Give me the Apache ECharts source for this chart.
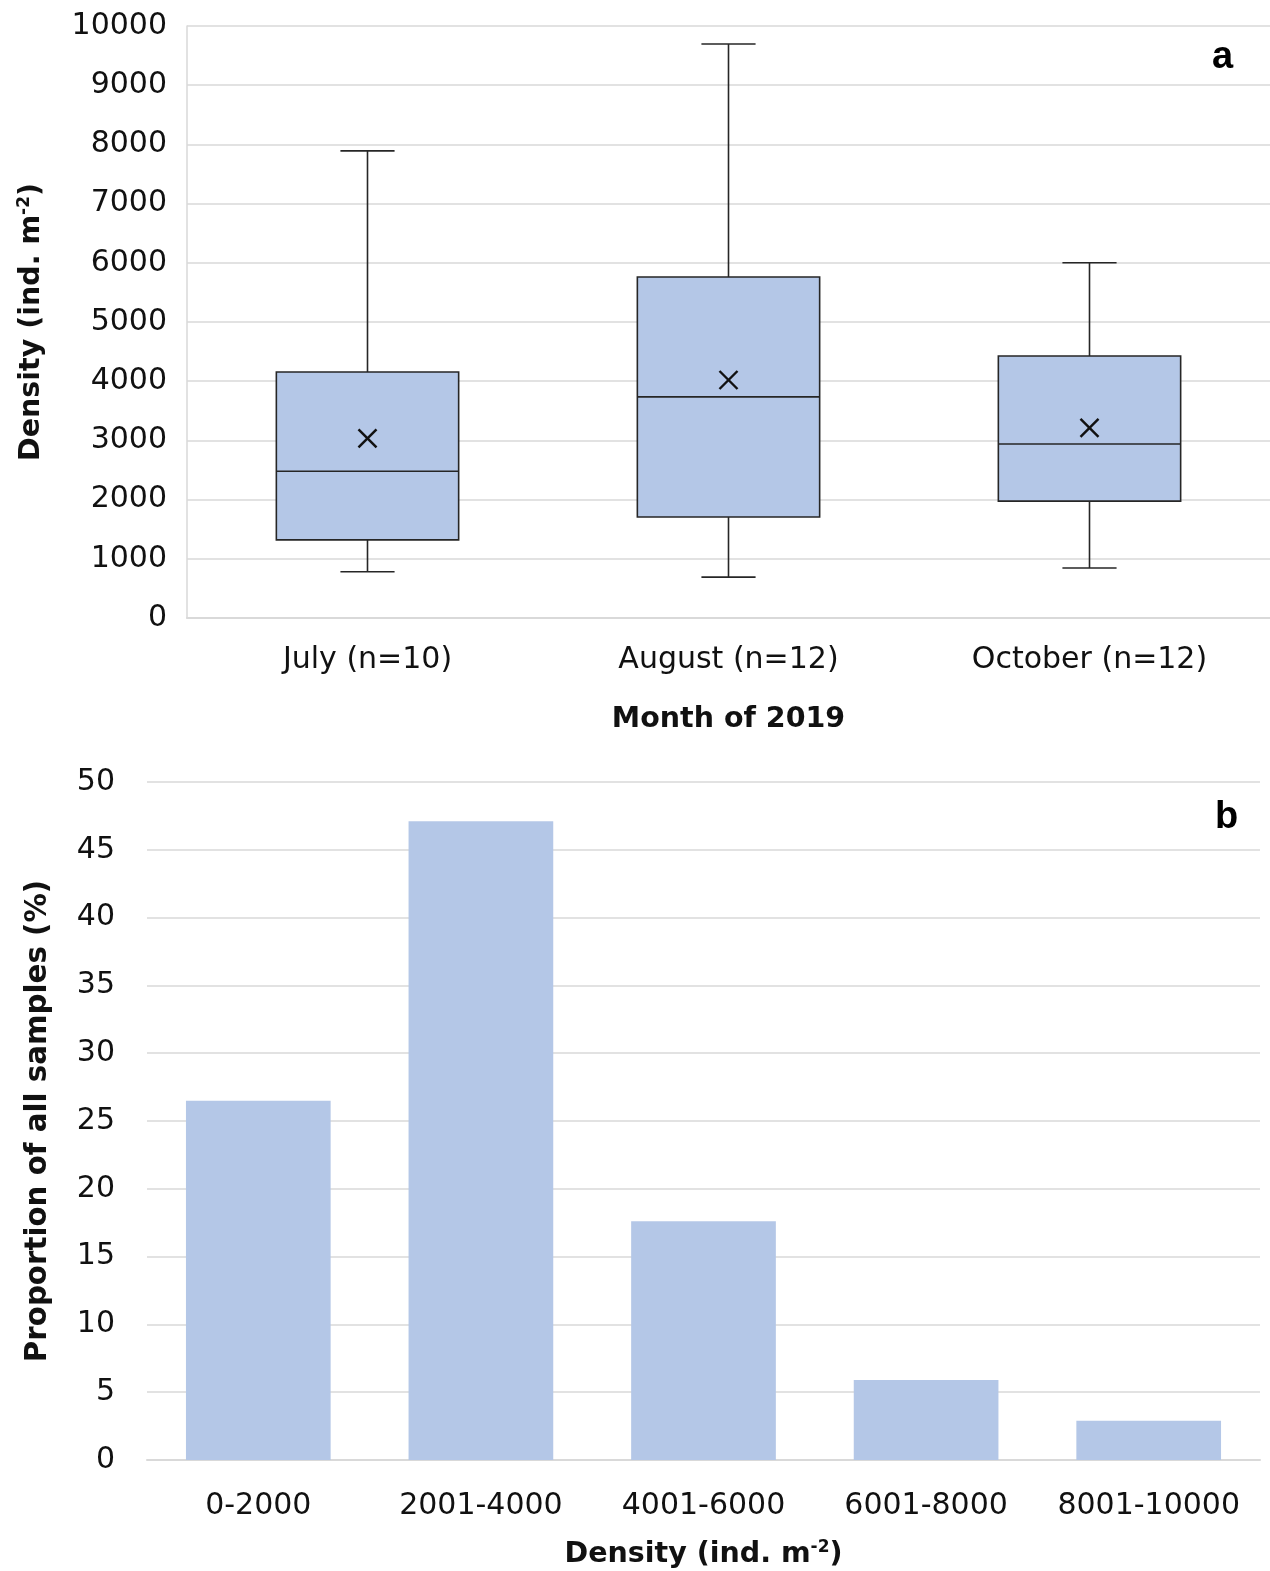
<!DOCTYPE html>
<html><head><meta charset="utf-8">
<script src="https://cdn.jsdelivr.net/npm/echarts@6/dist/echarts.min.js"></script>
<style>html,body{margin:0;padding:0;background:#fff}#c{width:1270px;height:1571px}</style>
</head><body><div id="c"></div>
<script>
// Panel a: box plot data
var months = ['July (n=10)', 'August (n=12)', 'October (n=12)'];
var boxMin = [780, 690, 845];
var boxQ1 = [1320, 1705, 1975];
var boxMedian = [2480, 3735, 2940];
var boxQ3 = [4155, 5760, 4425];
var boxMax = [7890, 9695, 6000];
var boxMean = [3035, 4020, 3210];
var densityTicks = [0, 10000, 1000];

// Panel b: histogram data
var densityClasses = ['0-2000', '2001-4000', '4001-6000', '6001-8000', '8001-10000'];
var proportion = [26.5, 47.1, 17.6, 5.9, 2.9];

var FONT = '"DejaVu Sans", sans-serif';
var TXT = '#111';
var GRID = '#d9d9d9';
var FILL = '#b4c7e7';
var EDGE = '#262626';

var boxData = months.map(function (m, i) {
  return [i, boxMin[i], boxQ1[i], boxMedian[i], boxQ3[i], boxMax[i], boxMean[i]];
});

function renderBox(params, api) {
  var i = api.value(0);
  var band = api.size([1, 0])[0];
  var bw = band * 0.505;
  var cw = band * 0.15;
  var pMin = api.coord([i, api.value(1)]);
  var pQ1 = api.coord([i, api.value(2)]);
  var pMed = api.coord([i, api.value(3)]);
  var pQ3 = api.coord([i, api.value(4)]);
  var pMax = api.coord([i, api.value(5)]);
  var pMean = api.coord([i, api.value(6)]);
  var x = pMed[0];
  var ls = { stroke: EDGE, lineWidth: 1.6 };
  var m = 9;
  return {
    type: 'group',
    children: [
      { type: 'line', shape: { x1: x, y1: pMax[1], x2: x, y2: pQ3[1] }, style: ls },
      { type: 'line', shape: { x1: x, y1: pMin[1], x2: x, y2: pQ1[1] }, style: ls },
      { type: 'line', shape: { x1: x - cw / 2, y1: pMax[1], x2: x + cw / 2, y2: pMax[1] }, style: ls },
      { type: 'line', shape: { x1: x - cw / 2, y1: pMin[1], x2: x + cw / 2, y2: pMin[1] }, style: ls },
      { type: 'rect', shape: { x: x - bw / 2, y: pQ3[1], width: bw, height: pQ1[1] - pQ3[1] },
        style: { fill: FILL, stroke: EDGE, lineWidth: 1.6 } },
      { type: 'line', shape: { x1: x - bw / 2, y1: pMed[1], x2: x + bw / 2, y2: pMed[1] }, style: ls },
      { type: 'line', shape: { x1: x - m, y1: pMean[1] - m, x2: x + m, y2: pMean[1] + m }, style: { stroke: '#111', lineWidth: 2.4 } },
      { type: 'line', shape: { x1: x - m, y1: pMean[1] + m, x2: x + m, y2: pMean[1] - m }, style: { stroke: '#111', lineWidth: 2.4 } }
    ]
  };
}

var chart = echarts.init(document.getElementById('c'));
var labelStyle = { color: TXT, fontFamily: FONT, fontSize: 30 };
var nameStyle = { color: TXT, fontFamily: FONT, fontSize: 28.5, fontWeight: 'bold',
  rich: { sup: { color: TXT, fontFamily: FONT, fontSize: 17, fontWeight: 'bold', verticalAlign: 'top', padding: [0, 0, 14, 0] } } };
var nameStyleB = Object.assign({}, nameStyle, { fontSize: 29.3 });
var plain = function (v) { return String(v); };

chart.setOption({
  animation: false,
  backgroundColor: '#fff',
  grid: [
    { left: 187, top: 26, width: 1083, height: 592, outerBoundsMode: 'none', containLabel: false },
    { left: 147, top: 782, width: 1113, height: 678, outerBoundsMode: 'none', containLabel: false }
  ],
  graphic: [
    { type: 'text', left: 1212, top: 39, style: { text: 'a', font: 'bold 38px "Liberation Sans", Arial, sans-serif', fill: '#000' } },
    { type: 'text', left: 1215, top: 799, style: { text: 'b', font: 'bold 38px "Liberation Sans", Arial, sans-serif', fill: '#000' } }
  ],
  xAxis: [
    { type: 'category', gridIndex: 0, data: months,
      axisLine: { lineStyle: { color: GRID, width: 2 } }, axisTick: { show: false },
      axisLabel: Object.assign({ margin: 27, interval: 0 }, labelStyle),
      name: 'Month of 2019', nameLocation: 'middle', nameGap: 87, nameTextStyle: nameStyle },
    { type: 'category', gridIndex: 1, data: densityClasses,
      axisLine: { lineStyle: { color: GRID, width: 2 } }, axisTick: { show: false },
      axisLabel: Object.assign({ margin: 31, interval: 0 }, labelStyle),
      name: 'Density (ind. m{sup|-2})', nameLocation: 'middle', nameGap: 79, nameTextStyle: nameStyle }
  ],
  yAxis: [
    { type: 'value', gridIndex: 0, min: densityTicks[0], max: densityTicks[1], interval: densityTicks[2],
      axisLine: { show: true, lineStyle: { color: GRID, width: 1.5 } }, axisTick: { show: false },
      splitLine: { lineStyle: { color: GRID, width: 1.5 } },
      axisLabel: Object.assign({ margin: 20, formatter: plain }, labelStyle),
      name: 'Density (ind. m{sup|-2})', nameLocation: 'middle', nameRotate: 90, nameGap: 140, nameTextStyle: nameStyle },
    { type: 'value', gridIndex: 1, min: 0, max: 50, interval: 5,
      axisLine: { show: false }, axisTick: { show: false },
      splitLine: { lineStyle: { color: GRID, width: 1.5 } },
      axisLabel: Object.assign({ margin: 32, formatter: plain }, labelStyle),
      name: 'Proportion of all samples (%)', nameLocation: 'middle', nameRotate: 90, nameGap: 94, nameTextStyle: nameStyleB }
  ],
  series: [
    { type: 'custom', xAxisIndex: 0, yAxisIndex: 0, data: boxData, renderItem: renderBox,
      encode: { x: 0, y: [1, 2, 3, 4, 5, 6] }, z: 5 },
    { type: 'bar', xAxisIndex: 1, yAxisIndex: 1, data: proportion, barWidth: '65%',
      itemStyle: { color: FILL } }
  ]
});
</script></body></html>
